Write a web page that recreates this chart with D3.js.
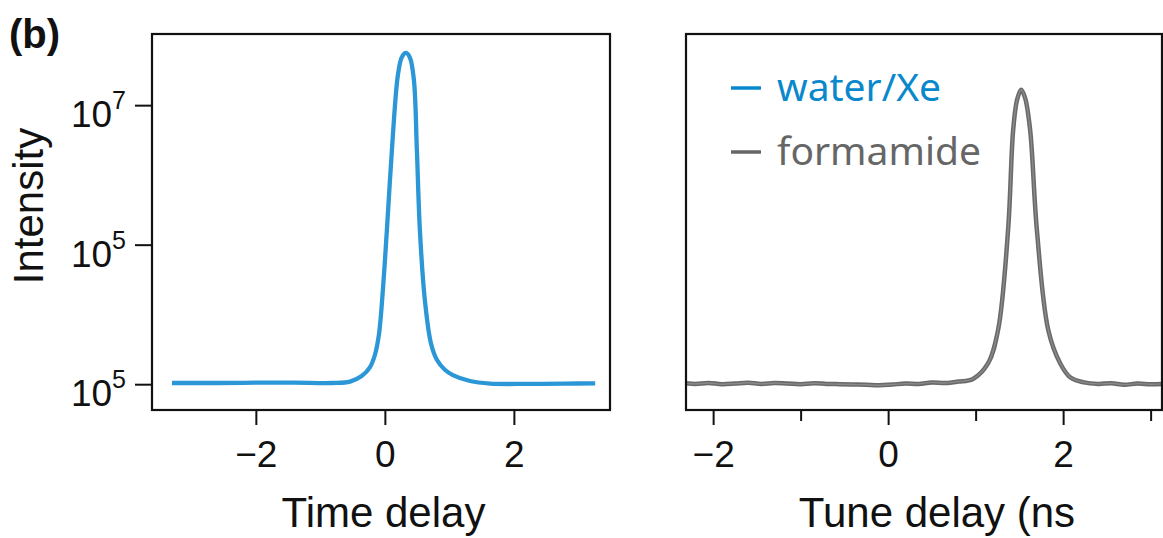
<!DOCTYPE html>
<html>
<head>
<meta charset="utf-8">
<script src="https://cdn.jsdelivr.net/npm/d3@7/dist/d3.min.js"></script>
<style>
  html, body { margin: 0; padding: 0; background: #fff; }
  svg { display: block; }
</style>
</head>
<body>
<svg id="chart" width="1163" height="538"></svg>
<script>
// ---------------- data ----------------
const waterX = [-3.3, -2.6, -2.0, -1.4, -0.81, -0.54, -0.36, -0.23, -0.155, -0.093, -0.031, 0.031, 0.124, 0.202, 0.264, 0.326, 0.388, 0.45, 0.496, 0.543, 0.62, 0.713, 0.806, 0.93, 1.054, 1.32, 1.63, 2.2, 2.8, 3.26];
const waterV = [1040, 1040, 1050, 1050, 1040, 1090, 1310, 1760, 2620, 5070, 22400, 160000, 3.7e6, 2.7e7, 4.9e7, 5.6e7, 4.8e7, 2.3e7, 2.3e6, 1.6e5, 1.6e4, 3900, 2240, 1610, 1350, 1110, 1020, 1010, 1020, 1030];

const formX = [-2.31, -2.2, -2.05, -1.9, -1.75, -1.6, -1.45, -1.3, -1.15, -1.0, -0.85, -0.7, -0.55, -0.4, -0.25, -0.1, 0.05, 0.2, 0.35, 0.5, 0.65, 0.8, 0.97, 1.143, 1.257, 1.371, 1.429, 1.474, 1.52, 1.566, 1.623, 1.70, 1.83, 1.966, 2.08, 2.24, 2.4, 2.55, 2.7, 2.85, 3.0, 3.13];
const formV = [1030, 1010, 1040, 1000, 1020, 1050, 1010, 1040, 1020, 1000, 1030, 1010, 1000, 990, 980, 965, 990, 1020, 1010, 1060, 1040, 1090, 1190, 2000, 6000, 1.63e5, 4.4e6, 1.2e7, 1.66e7, 1.26e7, 4.4e6, 1.63e5, 6000, 2000, 1260, 1060, 1010, 1030, 985, 1020, 1000, 1010];

const xTicksLeft = [-2, 0, 2];
const xTicksRightMajor = [-2, 0, 2];
const xTicksRightMinor = [-1, 1, 3];
const yTickValues = [1e7, 1e5, 1e3];
const yTickBase = ["10", "10", "10"];
const yTickExp = ["7", "5", "5"];

const legendLabels = ["water/Xe", "formamide"];
const legendColors = ["#0a88cc", "#666666"];
const lineColors = ["#2b97d6", "#6a6a6a"];

// ---------------- layout ----------------
const svg = d3.select("#chart");
const L = { left: 152, right: 610, top: 34, bottom: 410 };
const R = { left: 686, right: 1162, top: 34, bottom: 410 };

const xL = d3.scaleLinear().domain([-3.61, 3.49]).range([L.left, L.right]);
const xR = d3.scaleLinear().domain([-2.31, 3.13]).range([R.left, R.right]);
const y = d3.scaleLog().domain([Math.pow(10, 2.63), Math.pow(10, 8.02)]).range([L.bottom, L.top]);

const fmt = d => d < 0 ? "\u2212" + Math.abs(d) : String(d);
const sansFont = "'Liberation Sans', Arial, Helvetica, sans-serif";

svg.append("rect").attr("width", 1163).attr("height", 538).attr("fill", "#fff");

const defs = svg.append("defs");
defs.append("clipPath").attr("id", "clipL").append("rect")
  .attr("x", L.left).attr("y", L.top).attr("width", L.right - L.left).attr("height", L.bottom - L.top);
defs.append("clipPath").attr("id", "clipR").append("rect")
  .attr("x", R.left).attr("y", R.top).attr("width", R.right - R.left).attr("height", R.bottom - R.top);

// ---------------- lines ----------------
const waterData = waterX.map((x, i) => ({ x, v: waterV[i] }));
const formData = formX.map((x, i) => ({ x, v: formV[i] }));

const lineL = d3.line().x(d => xL(d.x)).y(d => y(d.v)).curve(d3.curveCatmullRom.alpha(0.5));
const lineR = d3.line().x(d => xR(d.x)).y(d => y(d.v)).curve(d3.curveCatmullRom.alpha(0.5));

svg.append("g").attr("clip-path", "url(#clipL)")
  .append("path").datum(waterData).attr("d", lineL)
  .attr("fill", "none").attr("stroke", lineColors[0]).attr("stroke-width", 4.3)
  .attr("stroke-linejoin", "round").attr("stroke-linecap", "butt");

const gR = svg.append("g").attr("clip-path", "url(#clipR)");
gR.append("path").datum(formData).attr("d", lineR)
  .attr("fill", "none").attr("stroke", lineColors[1]).attr("stroke-width", 4.5)
  .attr("stroke-linejoin", "round");
gR.append("path").datum(formData).attr("d", lineR)
  .attr("fill", "none").attr("stroke", "#8a8a8a").attr("stroke-width", 1.4)
  .attr("stroke-linejoin", "round");

// ---------------- frames ----------------
svg.append("rect").attr("x", L.left).attr("y", L.top)
  .attr("width", L.right - L.left).attr("height", L.bottom - L.top)
  .attr("fill", "none").attr("stroke", "#111").attr("stroke-width", 2.2);
svg.append("rect").attr("x", R.left).attr("y", R.top)
  .attr("width", R.right - R.left).attr("height", R.bottom - R.top)
  .attr("fill", "none").attr("stroke", "#111").attr("stroke-width", 2.2);

// ---------------- axes ----------------
function styleAxis(g) {
  g.select(".domain").remove();
  g.selectAll(".tick line").attr("stroke", "#111").attr("stroke-width", 2);
  g.selectAll(".tick text").attr("fill", "#111")
    .style("font-family", sansFont).style("font-size", "37px");
}

const axL = svg.append("g").attr("transform", `translate(0,${L.bottom})`)
  .call(d3.axisBottom(xL).tickValues(xTicksLeft).tickSize(15).tickFormat(fmt));
styleAxis(axL);
axL.selectAll(".tick text").attr("y", 57).attr("dy", 0);

const axR = svg.append("g").attr("transform", `translate(0,${R.bottom})`)
  .call(d3.axisBottom(xR).tickValues(xTicksRightMajor).tickSize(15).tickFormat(fmt));
styleAxis(axR);
axR.selectAll(".tick text").attr("y", 57).attr("dy", 0);

const axRm = svg.append("g").attr("transform", `translate(0,${R.bottom})`)
  .call(d3.axisBottom(xR).tickValues(xTicksRightMinor).tickSize(11).tickFormat(""));
styleAxis(axRm);

const axY = svg.append("g").attr("transform", `translate(${L.left},0)`)
  .call(d3.axisLeft(y).tickValues(yTickValues).tickSize(17).tickFormat(""));
styleAxis(axY);

// y tick labels with superscripts
yTickValues.forEach((v, i) => {
  const t = svg.append("text")
    .attr("x", 126).attr("y", y(v) + 22)
    .attr("text-anchor", "end")
    .attr("fill", "#111")
    .style("font-family", sansFont).style("font-size", "37px")
    .text(yTickBase[i]);
  t.append("tspan").attr("dy", -18).style("font-size", "25px").text(yTickExp[i]);
});

// ---------------- titles ----------------
svg.append("text").attr("x", 9).attr("y", 48)
  .style("font-family", sansFont).style("font-size", "40px").style("font-weight", "bold")
  .attr("fill", "#111").text("(b)");

svg.append("text").attr("transform", "translate(43,206) rotate(-90)")
  .attr("text-anchor", "middle").attr("fill", "#111")
  .style("font-family", sansFont).style("font-size", "42px").text("Intensity");

svg.append("text").attr("x", 383.5).attr("y", 527).attr("text-anchor", "middle")
  .attr("fill", "#111").style("font-family", sansFont).style("font-size", "42px").text("Time delay");

svg.append("text").attr("x", 937).attr("y", 527).attr("text-anchor", "middle")
  .attr("fill", "#111").style("font-family", sansFont).style("font-size", "42px").text("Tune delay (ns");

// ---------------- legend ----------------
const legendY = [88, 152];
legendLabels.forEach((lab, i) => {
  svg.append("line").attr("x1", 731).attr("x2", 761).attr("y1", legendY[i]).attr("y2", legendY[i])
    .attr("stroke", legendColors[i]).attr("stroke-width", 3.5);
  svg.append("text").attr("x", 777).attr("y", legendY[i] + 13)
    .attr("fill", legendColors[i])
    .style("font-family", "'Noto Sans', 'Open Sans', sans-serif").style("font-size", "39px")
    .text(lab);
});
</script>
</body>
</html>
